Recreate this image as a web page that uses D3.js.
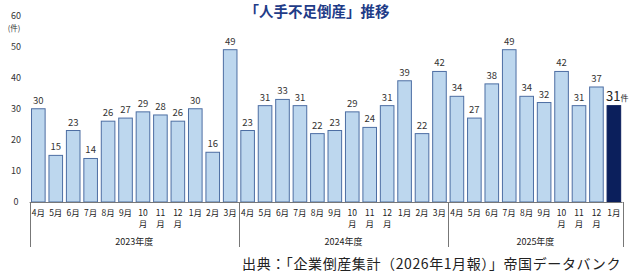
<!DOCTYPE html>
<html><head><meta charset="utf-8">
<script src="https://cdn.jsdelivr.net/npm/d3@7"></script>
<style>
html,body{margin:0;padding:0;background:#fff;}
svg{display:block;font-family:"Noto Sans CJK JP","Noto Sans",sans-serif;}
</style></head>
<body>
<div id="chart"></div>
<script>
const title = "「人手不足倒産」推移";
const fiscalYears = ["2023年度", "2024年度", "2025年度"];
const months = ["4月","5月","6月","7月","8月","9月","10月","11月","12月","1月","2月","3月"];
const values2023 = [30,15,23,14,26,27,29,28,26,30,16,49];
const values2024 = [23,31,33,31,22,23,29,24,31,39,22,42];
const values2025 = [34,27,38,49,34,32,42,31,37,31];
const yTicks = [0,10,20,30,40,50,60];
const unitLabel = "(件)";
const lastUnit = "件";
const source = "出典：「企業倒産集計（2026年1月報）」帝国データバンク";

const W = 640, H = 279;
const seriesByYear = [values2023, values2024, values2025];
const data = [];
seriesByYear.forEach((vals, yi) => vals.forEach((v, mi) => data.push({year: fiscalYears[yi], yi, month: months[mi], value: v, key: yi + "-" + mi})));

const svg = d3.select("#chart").append("svg").attr("width", W).attr("height", H);

const x = d3.scaleBand().domain(data.map(d => d.key)).range([29.6, 622.6]).paddingInner(0.22).paddingOuter(0.11);
const y = d3.scaleLinear().domain([0, 60]).range([202, 15.5]);

// title
svg.append("text").attr("x", 317).attr("y", 16.5).attr("text-anchor", "middle")
  .attr("font-size", 14.5).attr("font-weight", "bold").attr("fill", "#1f3c88").text(title);

// y tick labels
svg.selectAll("text.ytick").data(yTicks).enter().append("text").attr("class", "ytick")
  .attr("x", 16).attr("y", d => y(d) + 3.2).attr("text-anchor", "middle")
  .attr("font-size", 9).attr("fill", "#333").text(d => d);
svg.append("text").attr("x", 14).attr("y", 30.5).attr("text-anchor", "middle")
  .attr("font-size", 7.5).attr("fill", "#333").text(unitLabel);

// bars
const lastIdx = data.length - 1;
svg.selectAll("rect.bar").data(data).enter().append("rect").attr("class", "bar")
  .attr("x", d => x(d.key)).attr("width", x.bandwidth())
  .attr("y", d => y(d.value)).attr("height", d => y(0) - y(d.value))
  .attr("fill", (d, i) => i === lastIdx ? "#0b1f5c" : "#bdd7ee")
  .attr("stroke", (d, i) => i === lastIdx ? "#0b1f5c" : "#4d6ea3").attr("stroke-width", 1);

// value labels
svg.selectAll("text.val").data(data.slice(0, lastIdx)).enter().append("text").attr("class", "val")
  .attr("x", d => x(d.key) + x.bandwidth() / 2).attr("y", d => y(d.value) - 5)
  .attr("text-anchor", "middle").attr("font-size", 9.5).attr("fill", "#333").text(d => d.value);
const last = data[lastIdx];
const lt = svg.append("text").attr("x", x(last.key) - 1).attr("y", y(last.value) - 5)
  .attr("fill", "#222");
lt.append("tspan").attr("font-size", 13).text(last.value);
lt.append("tspan").attr("font-size", 8).text(lastUnit);

// x axis line
svg.append("line").attr("x1", 29.6).attr("x2", 622.6).attr("y1", 202.5).attr("y2", 202.5)
  .attr("stroke", "#777").attr("stroke-width", 1);

// month labels
data.forEach(d => {
  const cx = x(d.key) + x.bandwidth() / 2;
  if (d.month.length > 2) {
    svg.append("text").attr("x", cx).attr("y", 215.5).attr("text-anchor", "middle")
      .attr("font-size", 8.5).attr("fill", "#222").text(d.month.slice(0, 2));
    svg.append("text").attr("x", cx).attr("y", 227).attr("text-anchor", "middle")
      .attr("font-size", 8.5).attr("fill", "#222").text(d.month.slice(2));
  } else {
    svg.append("text").attr("x", cx).attr("y", 215.5).attr("text-anchor", "middle")
      .attr("font-size", 8.5).attr("fill", "#222").text(d.month);
  }
});

// group separators & year labels
const step = x.step();
const x0 = x.range()[0];
const groupStarts = [0, 12, 24, 34];
groupStarts.forEach(gi => {
  const gx = Math.round(x0 + gi * step) + 0.5;
  svg.append("line").attr("x1", gx).attr("x2", gx).attr("y1", 202).attr("y2", 247)
    .attr("stroke", "#777").attr("stroke-width", 1);
});
fiscalYears.forEach((fy, i) => {
  const a = x0 + groupStarts[i] * step, b = x0 + groupStarts[i + 1] * step;
  svg.append("text").attr("x", (a + b) / 2).attr("y", 245).attr("text-anchor", "middle")
    .attr("font-size", 9).attr("fill", "#222").text(fy);
});

// source
svg.append("text").attr("x", 621).attr("y", 269).attr("text-anchor", "end")
  .attr("font-size", 14).attr("letter-spacing", 0.6).attr("fill", "#222").text(source);
</script>
</body></html>
